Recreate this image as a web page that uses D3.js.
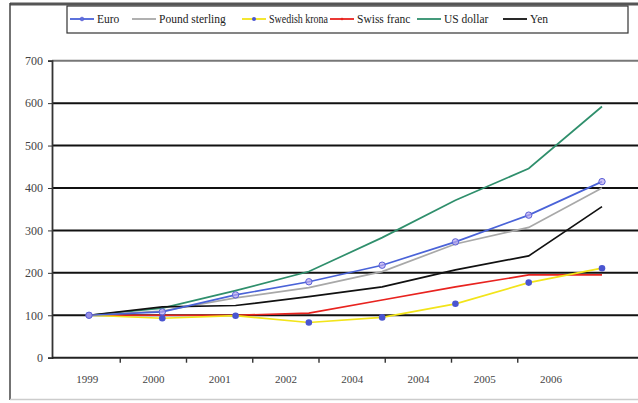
<!DOCTYPE html>
<html lang="en">
<head>
    <meta charset="UTF-8">
    <title>Currencies</title>
    <script src="https://cdn.jsdelivr.net/npm/d3@7/dist/d3.min.js"></script>
    <style>
        body { margin: 0; background: #fff; }
        text { font-family: "Liberation Serif", "DejaVu Serif", serif; }
    </style>
</head>
<body>
<script>
    // data
    var years = [1999, 2000, 2001, 2002, 2003, 2004, 2005, 2006];
    var yearLabels = ["1999", "2000", "2001", "2002", "2004", "2004", "2005", "2006"];
    var yTicks = [0, 100, 200, 300, 400, 500, 600, 700];

    var euro   = [100, 108, 148, 179, 218, 273, 336, 415];
    var pound  = [100, 110, 141, 165, 203, 268, 307, 400];
    var krona  = [100, 93, 99, 83, 95, 127, 177, 211];
    var franc  = [100, 100, 100, 105, 136, 167, 195, 195];
    var dollar = [100, 117, 158, 203, 283, 371, 446, 592];
    var yen    = [100, 120, 123, 144, 167, 207, 240, 356];

    var seriesNames = ["Euro", "Pound sterling", "Swedish krona", "Swiss franc", "US dollar", "Yen"];
    var seriesColors = ["#4a63d8", "#a8a8a8", "#f2e41a", "#e8231f", "#2f8f6c", "#111111"];
    var seriesValues = [euro, pound, krona, franc, dollar, yen];

    var width = 638, height = 403;
    var svg = d3.select("body").append("svg")
        .attr("width", width)
        .attr("height", height);

    // outer frame
    svg.append("line").attr("x1", 10).attr("y1", 4).attr("x2", 638).attr("y2", 4)
        .attr("stroke", "#555").attr("stroke-width", 3);
    svg.append("line").attr("x1", 10).attr("y1", 3).attr("x2", 10).attr("y2", 400)
        .attr("stroke", "#444").attr("stroke-width", 1.5);
    svg.append("line").attr("x1", 10).attr("y1", 399.5).attr("x2", 638).attr("y2", 399.5)
        .attr("stroke", "#ccc").attr("stroke-width", 1.5);

    // scales
    var y = d3.scaleLinear().domain([0, 700]).range([357.7, 60.7]);
    var xAxisScale = d3.scaleBand().domain(yearLabels.map(function (d, i) { return i; })).range([54, 584]);
    var x = d3.scalePoint().domain(years).range([89, 602]);

    // gridlines
    svg.selectAll(".grid")
        .data(yTicks.slice(1))
        .enter().append("line")
        .attr("x1", 52).attr("x2", 638)
        .attr("y1", function (d) { return y(d); })
        .attr("y2", function (d) { return y(d); })
        .attr("stroke", function (d) { return d === 700 ? "#777" : "#111"; })
        .attr("stroke-width", 2);

    // y axis
    var yAxis = d3.axisLeft(y).tickValues(yTicks).tickSize(4).tickPadding(5);
    var gy = svg.append("g").attr("transform", "translate(52,0)").call(yAxis);
    gy.attr("font-size", 12).attr("font-family", "'Liberation Serif', serif");
    gy.select(".domain").attr("stroke", "#333").attr("stroke-width", 1.8);
    gy.selectAll(".tick line").attr("stroke", "#333");
    gy.selectAll("text").attr("fill", "#444");

    // x axis
    svg.append("line").attr("x1", 52).attr("x2", 638)
        .attr("y1", y(0)).attr("y2", y(0))
        .attr("stroke", "#222").attr("stroke-width", 2);
    svg.selectAll(".xtick")
        .data(yearLabels.slice(1))
        .enter().append("line")
        .attr("x1", function (d, i) { return xAxisScale(i + 1); })
        .attr("x2", function (d, i) { return xAxisScale(i + 1); })
        .attr("y1", y(0)).attr("y2", y(0) + 5)
        .attr("stroke", "#333").attr("stroke-width", 1.4);
    svg.selectAll(".xlab")
        .data(yearLabels)
        .enter().append("text")
        .attr("x", function (d, i) { return xAxisScale(i) + xAxisScale.bandwidth() / 2; })
        .attr("y", 383)
        .attr("text-anchor", "middle")
        .attr("font-size", 11)
        .attr("fill", "#444")
        .text(function (d) { return d; });

    // lines
    var line = d3.line()
        .x(function (d, i) { return x(years[i]); })
        .y(function (d) { return y(d); });

    var drawOrder = [4, 1, 5, 3, 2, 0];
    drawOrder.forEach(function (k) {
        svg.append("path")
            .datum(seriesValues[k])
            .attr("d", line)
            .attr("fill", "none")
            .attr("stroke", seriesColors[k])
            .attr("stroke-width", 1.7);
    });

    // markers: krona dots, euro circles
    svg.selectAll(".kdot")
        .data(krona)
        .enter().append("circle")
        .attr("cx", function (d, i) { return x(years[i]); })
        .attr("cy", function (d) { return y(d); })
        .attr("r", 3.3)
        .attr("fill", "#4a55d0");
    svg.selectAll(".edot")
        .data(euro)
        .enter().append("circle")
        .attr("cx", function (d, i) { return x(years[i]); })
        .attr("cy", function (d) { return y(d); })
        .attr("r", 3.2)
        .attr("fill", "#b9a8f0")
        .attr("fill-opacity", 0.7)
        .attr("stroke", "#5a60d8")
        .attr("stroke-width", 1);

    // legend
    svg.append("rect")
        .attr("x", 67).attr("y", 6).attr("width", 561).attr("height", 27)
        .attr("fill", "#fff").attr("stroke", "#333").attr("stroke-width", 1.2);

    var legendX = [70, 132, 242, 330, 417, 503];
    var legend = svg.selectAll(".leg")
        .data(seriesNames)
        .enter().append("g")
        .attr("transform", function (d, i) { return "translate(" + legendX[i] + ",19)"; });
    legend.append("line")
        .attr("x1", 0).attr("x2", 24).attr("y1", 0).attr("y2", 0)
        .attr("stroke", function (d, i) { return seriesColors[i]; })
        .attr("stroke-width", 1.8);
    legend.filter(function (d, i) { return i === 0; })
        .append("circle").attr("cx", 12).attr("cy", 0).attr("r", 1.8)
        .attr("fill", "none").attr("stroke", "#5a60d8");
    legend.filter(function (d, i) { return i === 2; })
        .append("circle").attr("cx", 12).attr("cy", 0).attr("r", 2)
        .attr("fill", "#4a55d0");
    legend.filter(function (d, i) { return i === 3; })
        .append("circle").attr("cx", 12).attr("cy", 0).attr("r", 1.3)
        .attr("fill", "#e8231f");
    legend.append("text")
        .attr("x", 27).attr("y", 4)
        .attr("font-size", 11.5)
        .attr("fill", "#222")
        .text(function (d) { return d; });
    legend.filter(function (d, i) { return i === 2; }).select("text")
        .attr("textLength", 59)
        .attr("lengthAdjust", "spacingAndGlyphs");
</script>
</body>
</html>
